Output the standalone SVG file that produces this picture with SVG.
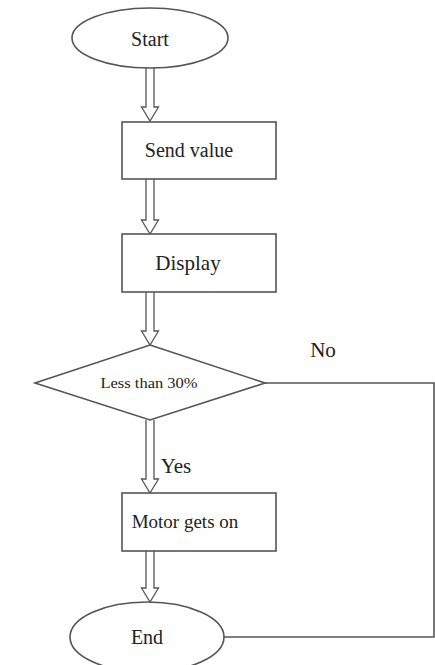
<svg xmlns="http://www.w3.org/2000/svg" width="435" height="665" viewBox="0 0 435 665">
  <style>
    .shape { fill: #ffffff; stroke: #555555; stroke-width: 1.6; }
    .arrow { fill: #ffffff; stroke: #555555; stroke-width: 1.3; stroke-linejoin: miter; }
    .line { fill: none; stroke: #555555; stroke-width: 1.6; }
    .label { font-family: "Liberation Serif", "Times New Roman", serif; font-size: 20px; fill: #222222; text-anchor: middle; }
    .big { font-size: 21px; }
    .mid { font-size: 19px; }
    .small { font-size: 15px; }
  </style>
  <rect width="435" height="665" fill="#ffffff"/>

  <g id="connectors">
    <!-- hollow block arrows between the steps -->
    <path class="arrow" d="M146,68 V107 H141.5 L150,121 L158.5,107 H154 V68"/>
    <path class="arrow" d="M146,179 V220 H141.5 L150,234 L158.5,220 H154 V179"/>
    <path class="arrow" d="M146,292 V331 H141.5 L150,345 L158.5,331 H154 V292"/>
    <path class="arrow" d="M146,420 V479 H141.5 L150,493 L158.5,479 H154 V420"/>
    <path class="arrow" d="M146,551 V588 H141.5 L150,602 L158.5,588 H154 V551"/>
    <!-- "No" branch back to End -->
    <polyline class="line" points="265,383 434,383 434,637 223,637"/>
    <text class="label big" x="176" y="473">Yes</text>
    <text class="label big" x="323" y="357">No</text>
  </g>

  <g id="start">
    <ellipse class="shape" cx="150" cy="38" rx="78" ry="30"/>
    <text class="label" x="150" y="46">Start</text>
  </g>

  <g id="send-value">
    <rect class="shape" x="122" y="122" width="154" height="57"/>
    <text class="label" x="189" y="157">Send value</text>
  </g>

  <g id="display">
    <rect class="shape" x="122" y="234" width="154" height="58"/>
    <text class="label big" x="188" y="270">Display</text>
  </g>

  <g id="decision">
    <polygon class="shape" points="150,345 265,383 150,420 35,383"/>
    <text class="label small" x="149" y="388" textLength="97" lengthAdjust="spacingAndGlyphs">Less than 30%</text>
  </g>

  <g id="motor">
    <rect class="shape" x="122" y="493" width="154" height="58"/>
    <text class="label mid" x="185" y="528">Motor gets on</text>
  </g>

  <g id="end">
    <ellipse class="shape" cx="147" cy="637" rx="77" ry="35"/>
    <text class="label" x="147" y="644">End</text>
  </g>
</svg>
